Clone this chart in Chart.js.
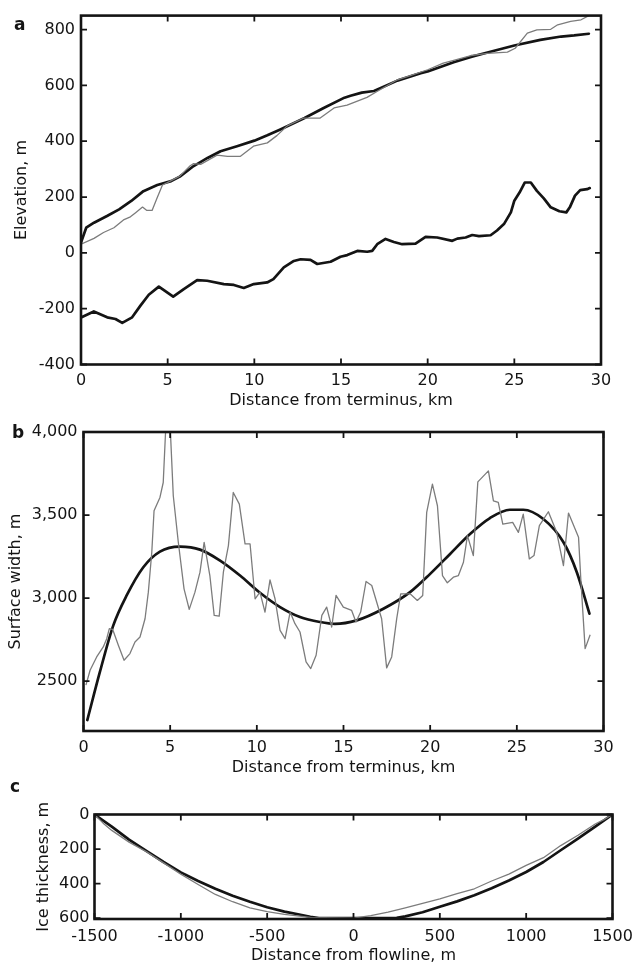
<!DOCTYPE html>
<html>
<head>
<meta charset="utf-8">
<script src="https://cdn.jsdelivr.net/npm/chart.js@4.4.1/dist/chart.umd.min.js"></script>
<style>
  html, body { margin: 0; padding: 0; background: #fff; overflow: hidden; }
  .panel { position: absolute; left: 0; }
  .panel canvas { display: block; }
</style>
</head>
<body>
<div class="panel" style="top:0px"><canvas id="chart-a" width="644" height="412"></canvas></div>
<div class="panel" style="top:412px"><canvas id="chart-b" width="644" height="366"></canvas></div>
<div class="panel" style="top:775px"><canvas id="chart-c" width="644" height="195"></canvas></div>
<script>
// panel a: elevation profiles along the flowline
const surfModelKm = [0, 0.3, 0.75, 1.5, 2.2, 2.9, 3.6, 4.4, 5.2, 5.7, 6.5, 7.3, 8.05, 9.0, 10.0, 10.75, 11.5, 12.9, 14.0, 15.2, 15.55, 16.2, 16.9, 18.25, 19.6, 20.0, 21.5, 22.5, 23.45, 25.0, 26.5, 27.7, 28.45, 29.3];
const surfModel = [37, 90, 108, 132, 156, 186, 221, 243, 257, 273, 311, 340, 364, 382, 402, 421, 442, 483, 519, 556, 563, 574, 580, 617, 644, 650, 683, 702, 718, 743, 763, 775, 779, 785];

const surfObsKm = [0, 0.75, 1.3, 1.9, 2.45, 2.85, 3.15, 3.55, 3.8, 4.1, 4.4, 4.7, 5.15, 5.7, 6.3, 6.5, 6.9, 7.85, 8.45, 9.2, 9.95, 10.75, 11.3, 11.9, 12.85, 13.8, 14.6, 15.35, 16.5, 17.1, 18.25, 19.0, 20.0, 20.9, 21.5, 22.5, 23.45, 24.6, 25.05, 25.75, 26.3, 27.1, 27.5, 28.25, 28.85, 29.3];
const surfObs = [31, 52, 73, 90, 118, 129, 144, 164, 152, 152, 198, 243, 257, 275, 312, 320, 317, 350, 346, 346, 382, 394, 420, 455, 483, 483, 519, 529, 557, 579, 620, 635, 656, 680, 690, 707, 715, 719, 733, 787, 799, 801, 817, 829, 835, 850];

const bedKm = [0, 0.74, 1.51, 1.99, 2.38, 2.95, 3.43, 3.91, 4.49, 5.32, 5.93, 6.7, 7.28, 8.24, 8.82, 9.39, 9.97, 10.74, 11.1, 11.7, 12.28, 12.67, 13.24, 13.63, 14.4, 14.97, 15.36, 15.94, 16.51, 16.8, 17.09, 17.57, 18.05, 18.53, 19.3, 19.88, 20.55, 21.42, 21.71, 22.19, 22.57, 22.96, 23.63, 24.0, 24.4, 24.8, 25.0, 25.3, 25.6, 25.95, 26.3, 26.7, 27.1, 27.6, 28.0, 28.2, 28.5, 28.8, 29.2, 29.35];
const bed = [-232, -210, -231, -237, -251, -231, -189, -150, -121, -157, -130, -98, -100, -112, -115, -126, -112, -106, -94, -52, -29, -23, -25, -40, -32, -14, -8, 7, 4, 7, 31, 50, 39, 31, 33, 57, 55, 43, 51, 55, 64, 60, 63, 80, 103, 145, 187, 216, 252, 252, 222, 195, 163, 149, 145, 163, 205, 225, 228, 232];

const kmTicks = [0, 5, 10, 15, 20, 25, 30];
const elevTicks = [-400, -200, 0, 200, 400, 600, 800];

// panel b: surface width
const widthFitKm = [0.22, 0.95, 1.72, 2.49, 3.45, 4.41, 5.57, 6.72, 7.88, 9.03, 10.18, 11.34, 12.49, 13.65, 14.5, 15.76, 17.3, 18.84, 20.0, 21.15, 22.3, 23.45, 24.6, 25.37, 26.53, 27.69, 28.46, 29.19];
const widthFit = [2266, 2557, 2836, 3016, 3186, 3280, 3310, 3292, 3226, 3136, 3032, 2946, 2886, 2856, 2845, 2866, 2936, 3036, 3146, 3266, 3386, 3482, 3532, 3532, 3476, 3336, 3156, 2906];

const widthObsKm = [0.14, 0.38, 0.76, 1.14, 1.34, 1.49, 1.68, 2.01, 2.34, 2.68, 2.97, 3.26, 3.55, 3.74, 3.94, 4.07, 4.41, 4.6, 4.8, 4.95, 5.18, 5.47, 5.8, 6.1, 6.43, 6.72, 6.96, 7.29, 7.54, 7.83, 8.07, 8.36, 8.64, 8.99, 9.32, 9.61, 9.9, 10.18, 10.47, 10.76, 11.05, 11.34, 11.63, 11.92, 12.2, 12.49, 12.84, 13.11, 13.42, 13.75, 14.03, 14.32, 14.57, 14.99, 15.47, 15.72, 15.99, 16.3, 16.63, 17.2, 17.49, 17.78, 18.07, 18.3, 18.84, 19.26, 19.57, 19.8, 20.13, 20.42, 20.71, 20.99, 21.34, 21.63, 21.92, 22.15, 22.49, 22.75, 23.36, 23.65, 23.93, 24.19, 24.76, 25.09, 25.37, 25.72, 25.99, 26.3, 26.82, 27.3, 27.69, 27.98, 28.56, 28.69, 28.94, 29.23];
const widthObs = [2476, 2566, 2646, 2706, 2756, 2816, 2812, 2716, 2626, 2666, 2736, 2766, 2876, 3036, 3276, 3526, 3606, 3696, 4150, 4150, 3616, 3336, 3056, 2932, 3036, 3156, 3336, 3136, 2896, 2892, 3156, 3316, 3636, 3566, 3326, 3326, 2996, 3036, 2916, 3110, 2996, 2806, 2756, 2916, 2846, 2796, 2616, 2576, 2656, 2896, 2946, 2826, 3016, 2946, 2926, 2856, 2916, 3100, 3076, 2876, 2580, 2646, 2876, 3026, 3026, 2986, 3016, 3516, 3686, 3556, 3136, 3092, 3126, 3136, 3216, 3376, 3256, 3700, 3766, 3586, 3576, 3446, 3456, 3396, 3506, 3236, 3256, 3436, 3520, 3396, 3196, 3512, 3366, 3116, 2696, 2780];

const widthTicks = [2500, 3000, 3500, 4000];
const widthTickLabels = ["2500", "3,000", "3,500", "4,000"];

// panel c: cross-section ice thickness
const crossModelX = [-1500, -1400, -1300, -1200, -1100, -1000, -900, -800, -700, -600, -500, -400, -300, -250, -200, 0, 200, 250, 300, 400, 500, 600, 700, 800, 900, 1000, 1100, 1200, 1300, 1400, 1500];
const crossModel = [0, 70, 145, 210, 275, 335, 385, 430, 470, 505, 537, 562, 582, 592, 600, 600, 600, 598, 590, 566, 534, 503, 468, 427, 382, 333, 275, 207, 140, 70, 0];

const crossObsX = [-1500, -1450, -1400, -1300, -1200, -1100, -1000, -900, -800, -700, -600, -500, -400, -300, -250, 0, 100, 200, 300, 400, 500, 600, 700, 800, 900, 1000, 1100, 1200, 1300, 1400, 1450, 1500];
const crossObs = [0, 50, 92, 160, 215, 280, 345, 405, 463, 505, 540, 562, 578, 590, 596, 600, 585, 565, 540, 515, 488, 458, 430, 385, 345, 295, 250, 180, 120, 55, 30, 0];

const flowlineTicks = [-1500, -1000, -500, 0, 500, 1000, 1500];
const thicknessTicks = [0, 200, 400, 600];

const BLACK = "#141414";
const GRAY = "#7c7c7c";

Chart.defaults.font.family = "'DejaVu Sans', sans-serif";
Chart.defaults.font.size = 16;
Chart.defaults.color = BLACK;

function zip(xs, ys) {
  return xs.map((x, i) => ({ x: x, y: ys[i] }));
}

// box round the plot with inward ticks on every side, plus the panel letter
const framePlugin = {
  id: "frame",
  afterDatasetsDraw(chart, args, opts) {
    const { ctx, chartArea: a, scales } = chart;
    const len = 6;
    ctx.save();
    ctx.strokeStyle = BLACK;
    ctx.lineWidth = 1.8;
    ctx.beginPath();
    scales.x.ticks.forEach((t) => {
      const px = scales.x.getPixelForValue(t.value);
      ctx.moveTo(px, a.bottom);
      ctx.lineTo(px, a.bottom - len);
      ctx.moveTo(px, a.top);
      ctx.lineTo(px, a.top + len);
    });
    scales.y.ticks.forEach((t) => {
      const py = scales.y.getPixelForValue(t.value);
      ctx.moveTo(a.left, py);
      ctx.lineTo(a.left + len, py);
      ctx.moveTo(a.right, py);
      ctx.lineTo(a.right - len, py);
    });
    ctx.stroke();
    ctx.lineWidth = 2.6;
    ctx.strokeRect(a.left, a.top, a.width, a.height);
    ctx.fillStyle = BLACK;
    ctx.font = "bold 17px 'DejaVu Sans'";
    ctx.textBaseline = "alphabetic";
    ctx.fillText(opts.letter, opts.lx, opts.ly);
    ctx.restore();
  },
};

function fixedTicks(values) {
  return (scale) => {
    scale.ticks = values.map((v) => ({ value: v }));
  };
}

function renderPanel(canvasId, datasets, p) {
  const canvas = document.getElementById(canvasId);
  return new Chart(canvas, {
    type: "line",
    data: { datasets: datasets },
    options: {
      responsive: false,
      animation: false,
      layout: { padding: { top: p.padTop, right: p.padRight, bottom: 0, left: 0 } },
      elements: { point: { radius: 0 } },
      plugins: {
        legend: { display: false },
        tooltip: { enabled: false },
        frame: { letter: p.letter, lx: p.lx, ly: p.ly },
      },
      scales: {
        x: {
          type: "linear",
          min: p.xMin,
          max: p.xMax,
          grid: { display: false, drawTicks: false },
          border: { display: false },
          ticks: { padding: p.xTickPad, maxRotation: 0, autoSkip: false, callback: (v) => String(v) },
          afterBuildTicks: fixedTicks(p.xTicks),
          title: { display: true, text: p.xTitle, padding: { top: 0, bottom: p.xTitlePad } },
          afterFit: (scale) => { scale.height = p.xHeight; },
        },
        y: {
          type: "linear",
          min: p.yMin,
          max: p.yMax,
          reverse: !!p.yReverse,
          grid: { display: false, drawTicks: false },
          border: { display: false },
          ticks: { padding: p.yTickPad, autoSkip: false, callback: p.yLabel },
          afterBuildTicks: fixedTicks(p.yTicks),
          title: { display: true, text: p.yTitle, padding: { top: p.yTitlePad, bottom: 0 } },
          afterFit: (scale) => { scale.width = p.yWidth; },
        },
      },
    },
    plugins: [framePlugin],
  });
}

function thin(data) {
  return { data: data, borderColor: GRAY, borderWidth: 1.3, tension: 0, borderJoinStyle: "round" };
}
function thick(data, smooth) {
  return {
    data: data,
    borderColor: BLACK,
    borderWidth: 2.7,
    tension: smooth ? 0.4 : 0,
    cubicInterpolationMode: smooth ? "monotone" : "default",
    borderJoinStyle: "round",
    borderCapStyle: "round",
  };
}

renderPanel("chart-a", [
  thin(zip(surfObsKm, surfObs)),
  thick(zip(surfModelKm, surfModel), false),
  thick(zip(bedKm, bed), false),
], {
  letter: "a", lx: 14, ly: 30,
  padTop: 13.5, padRight: 43, yWidth: 81, xHeight: 47.5,
  xMin: 0, xMax: 30, xTicks: kmTicks, xTickPad: 7, xTitle: "Distance from terminus, km", xTitlePad: 2,
  yMin: -400, yMax: 850, yTicks: elevTicks, yTickPad: 6, yTitle: "Elevation, m", yTitlePad: 12,
  yLabel: (v) => String(v),
});

renderPanel("chart-b", [
  thin(zip(widthObsKm, widthObs)),
  thick(zip(widthFitKm, widthFit), true),
], {
  letter: "b", lx: 12, ly: 26,
  padTop: 20, padRight: 40.5, yWidth: 83.5, xHeight: 47,
  xMin: 0, xMax: 30, xTicks: kmTicks, xTickPad: 7, xTitle: "Distance from terminus, km", xTitlePad: 1,
  yMin: 2200, yMax: 4000, yTicks: widthTicks, yTickPad: 6, yTitle: "Surface width, m", yTitlePad: 6.5,
  yLabel: (v) => widthTickLabels[widthTicks.indexOf(v)],
});

renderPanel("chart-c", [
  thin(zip(crossObsX, crossObs)),
  thick(zip(crossModelX, crossModel), false),
], {
  letter: "c", lx: 10, ly: 17,
  padTop: 39.5, padRight: 31.5, yWidth: 94.5, xHeight: 51,
  xMin: -1500, xMax: 1500, xTicks: flowlineTicks, xTickPad: 8, xTitle: "Distance from flowline, m", xTitlePad: 4.4,
  yMin: 0, yMax: 605, yTicks: thicknessTicks, yReverse: true, yTickPad: 5, yTitle: "Ice thickness, m", yTitlePad: 34,
  yLabel: (v) => String(v),
});
</script>
</body>
</html>
